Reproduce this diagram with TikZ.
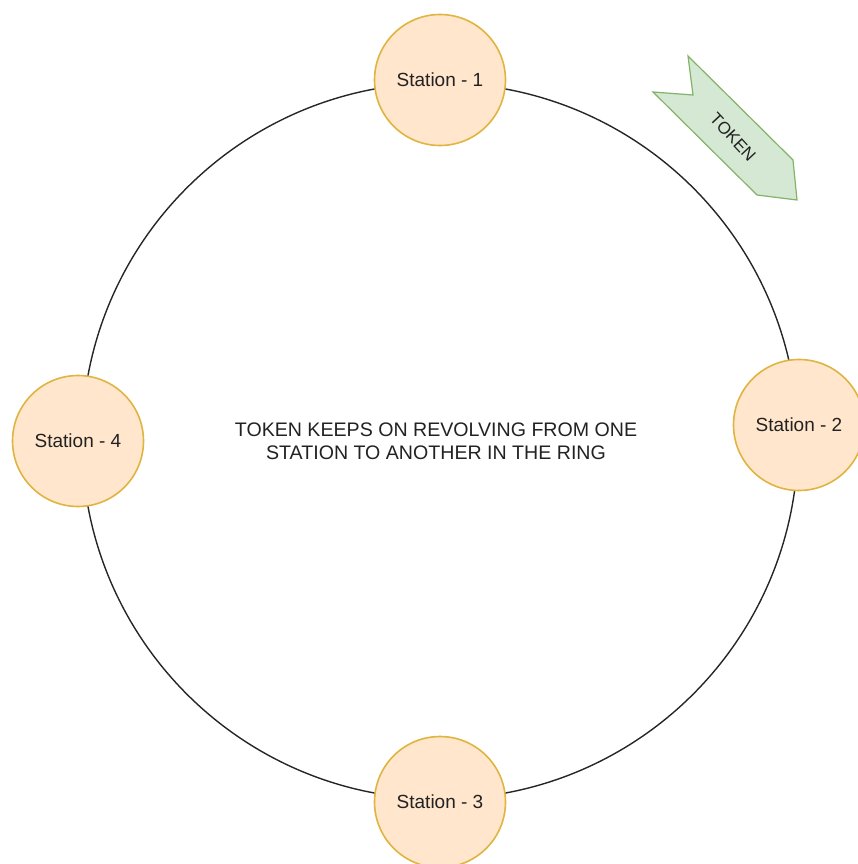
\documentclass[tikz,border=0pt]{standalone}
\usepackage{fontspec}
\setmainfont{Liberation Sans}
\definecolor{stfill}{HTML}{FFE6CC}
\definecolor{stdraw}{HTML}{E0B440}
\definecolor{tkfill}{HTML}{D5E8D4}
\definecolor{tkdraw}{HTML}{82B366}
\definecolor{txt}{HTML}{222222}
\begin{document}
\begin{tikzpicture}[x=1pt,y=-1pt,
  station/.style={circle,draw=stdraw,fill=stfill,line width=1.6pt,minimum size=131pt,inner sep=0pt,
    text=txt,font=\fontsize{19}{21}\selectfont},
  ring/.style={draw=black!85,line width=1.4pt},
  tokenshape/.style={fill=tkfill,draw=tkdraw,line width=1.2pt,line join=miter}]
\useasboundingbox (0,0) rectangle (857,864);
\coordinate (c) at (440,441);
\draw[ring] (c) circle (358);
\node[station] (s1) at (440,80) {Station - 1};
\node[station] (s2) at (799,425) {Station - 2};
\node[station] (s3) at (440,802) {Station - 3};
\node[station] (s4) at (78,441) {Station - 4};
\node[text=txt,font=\fontsize{19.6}{23}\selectfont,align=center] (msg) at (436,441)
  {TOKEN KEEPS ON REVOLVING FROM ONE\\STATION TO ANOTHER IN THE RING};
\draw[tokenshape] (688,56) -- (693,95) -- (653,92) -- (757,195) -- (797,200) -- (793,160) -- cycle;
\node[text=txt,font=\fontsize{17}{19}\selectfont,rotate=-47,inner sep=0pt] (tk) at (733,137) {TOKEN};
\end{tikzpicture}
\end{document}
